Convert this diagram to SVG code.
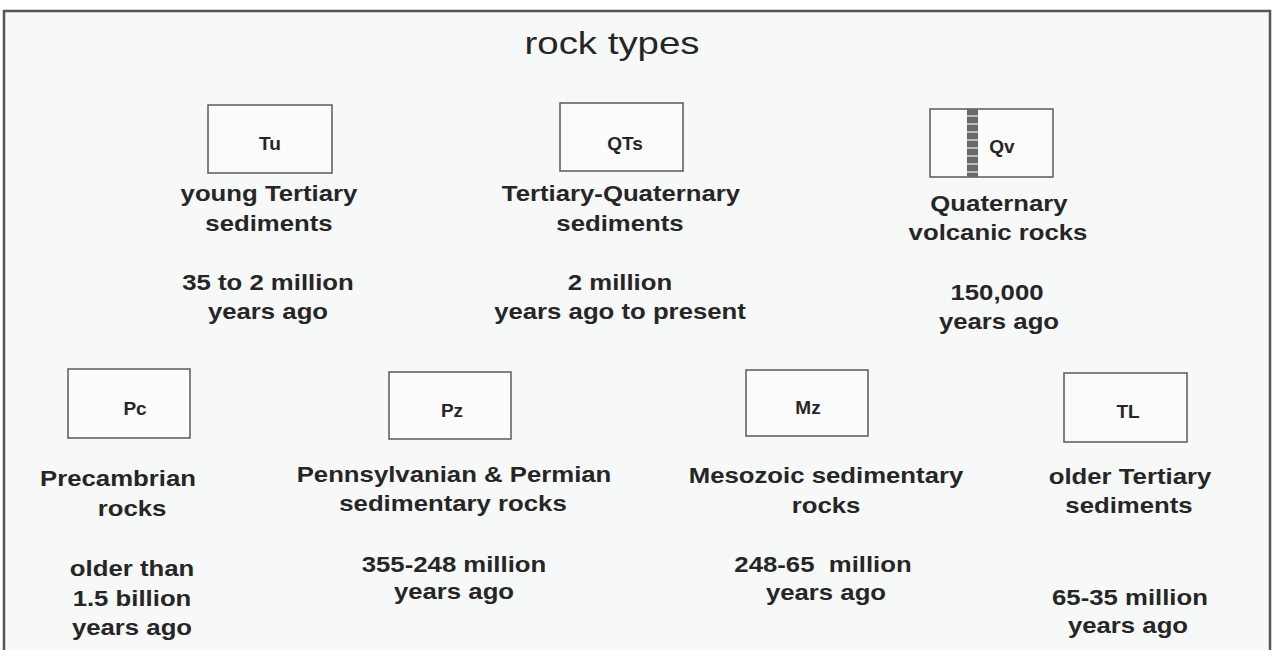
<svg xmlns="http://www.w3.org/2000/svg" width="1275" height="650" viewBox="0 0 1275 650">
<style>
.t{font-family:"Liberation Sans",Arial,sans-serif;font-weight:bold;font-size:22px;fill:#262626;text-anchor:middle}
.lbl{font-family:"Liberation Sans",Arial,sans-serif;font-weight:bold;font-size:19px;fill:#262626;text-anchor:middle}
.title{font-family:"Liberation Sans",Arial,sans-serif;font-size:32px;fill:#262626;text-anchor:middle}
.box{fill:#fbfbfb;stroke:#5a5a5a;stroke-width:1.5}
</style>
<rect x="0" y="0" width="1275" height="650" fill="#ffffff"/>
<path d="M4,652 V11 H1270 V652" fill="#f7f8f8" stroke="#555" stroke-width="2.5"/>
<g id="title"><text class="title" transform="translate(612,54) scale(1.2,1)">rock types</text></g>

<g id="Tu">
<rect class="box" x="208" y="105" width="124" height="68"/>
<text class="lbl" x="270" y="150">Tu</text>
<text class="t" transform="translate(269,201) scale(1.17,1)">young Tertiary</text>
<text class="t" transform="translate(269,231) scale(1.17,1)">sediments</text>
<text class="t" transform="translate(268,290) scale(1.17,1)">35 to 2 million</text>
<text class="t" transform="translate(268,319) scale(1.17,1)">years ago</text>
</g>

<g id="QTs">
<rect class="box" x="560" y="103" width="123" height="68"/>
<text class="lbl" x="625" y="150">QTs</text>
<text class="t" transform="translate(621,201) scale(1.17,1)">Tertiary-Quaternary</text>
<text class="t" transform="translate(620,231) scale(1.17,1)">sediments</text>
<text class="t" transform="translate(620,290) scale(1.17,1)">2 million</text>
<text class="t" transform="translate(620,319) scale(1.17,1)">years ago to present</text>
</g>

<g id="Qv">
<rect class="box" x="930" y="109" width="123" height="68"/>
<rect x="967" y="109" width="11" height="68" fill="#6a6a6a"/>
<g stroke="#d8d8d8" stroke-width="1.5">
<line x1="967" y1="116" x2="978" y2="116"/>
<line x1="967" y1="124" x2="978" y2="124"/>
<line x1="967" y1="132" x2="978" y2="132"/>
<line x1="967" y1="140" x2="978" y2="140"/>
<line x1="967" y1="148" x2="978" y2="148"/>
<line x1="967" y1="156" x2="978" y2="156"/>
<line x1="967" y1="164" x2="978" y2="164"/>
<line x1="967" y1="172" x2="978" y2="172"/>
</g>
<text class="lbl" x="1002" y="153">Qv</text>
<text class="t" transform="translate(999,211) scale(1.17,1)">Quaternary</text>
<text class="t" transform="translate(998,240) scale(1.17,1)">volcanic rocks</text>
<text class="t" transform="translate(997,300) scale(1.17,1)">150,000</text>
<text class="t" transform="translate(999,329) scale(1.17,1)">years ago</text>
</g>

<g id="Pc">
<rect class="box" x="68" y="369" width="122" height="69"/>
<text class="lbl" x="135" y="415">Pc</text>
<text class="t" transform="translate(118,486) scale(1.17,1)">Precambrian</text>
<text class="t" transform="translate(132,516) scale(1.17,1)">rocks</text>
<text class="t" transform="translate(132,576) scale(1.17,1)">older than</text>
<text class="t" transform="translate(132,606) scale(1.17,1)">1.5 billion</text>
<text class="t" transform="translate(132,635) scale(1.17,1)">years ago</text>
</g>

<g id="Pz">
<rect class="box" x="389" y="372" width="122" height="67"/>
<text class="lbl" x="452" y="417">Pz</text>
<text class="t" transform="translate(454,482) scale(1.17,1)">Pennsylvanian &amp; Permian</text>
<text class="t" transform="translate(453,511) scale(1.17,1)">sedimentary rocks</text>
<text class="t" transform="translate(454,572) scale(1.17,1)">355-248 million</text>
<text class="t" transform="translate(454,599) scale(1.17,1)">years ago</text>
</g>

<g id="Mz">
<rect class="box" x="746" y="370" width="122" height="66"/>
<text class="lbl" x="808" y="414">Mz</text>
<text class="t" transform="translate(826,483) scale(1.17,1)">Mesozoic sedimentary</text>
<text class="t" transform="translate(826,513) scale(1.17,1)">rocks</text>
<text class="t" transform="translate(823,572) scale(1.17,1)" xml:space="preserve">248-65  million</text>
<text class="t" transform="translate(826,600) scale(1.17,1)">years ago</text>
</g>

<g id="TL">
<rect class="box" x="1064" y="373" width="123" height="69"/>
<text class="lbl" x="1128" y="418">TL</text>
<text class="t" transform="translate(1130,484) scale(1.17,1)">older Tertiary</text>
<text class="t" transform="translate(1129,513) scale(1.17,1)">sediments</text>
<text class="t" transform="translate(1130,605) scale(1.17,1)">65-35 million</text>
<text class="t" transform="translate(1128,633) scale(1.17,1)">years ago</text>
</g>

<g id="connectors"></g>
</svg>
